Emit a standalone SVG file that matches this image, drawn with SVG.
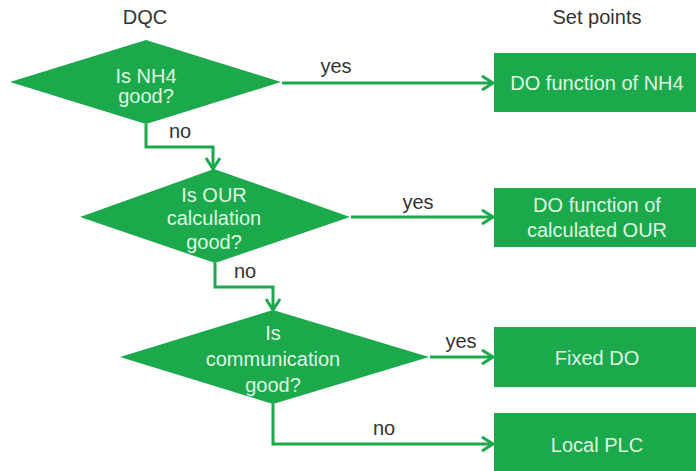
<svg xmlns="http://www.w3.org/2000/svg" width="696" height="471" viewBox="0 0 696 471">
<defs>
<marker id="arr" markerUnits="userSpaceOnUse" markerWidth="16" markerHeight="18" viewBox="0 0 16 18" refX="14" refY="9" orient="auto">
<path d="M3,2 L14,9 L3,16" fill="none" stroke="#1ba94c" stroke-width="3"/>
</marker>
</defs>
<style>
.shape{fill:#1ba94c}
.in{font-family:"Liberation Sans",Arial,sans-serif;font-size:20px;fill:#dff7e3;text-anchor:middle}
.lbl{font-family:"Liberation Sans",Arial,sans-serif;font-size:20px;fill:#333;text-anchor:middle}
.c{fill:none;stroke:#1ba94c;stroke-width:3}
</style>
<rect width="696" height="471" fill="#fff"/>
<text class="lbl" x="145" y="24">DQC</text>
<text class="lbl" x="597" y="24">Set points</text>
<g id="d1">
<polygon class="shape" points="10,82 146,40 281,82 146,124"/>
<text class="in" x="146" y="83">Is NH4</text>
<text class="in" x="146" y="103">good?</text>
</g>
<g id="d2">
<polygon class="shape" points="80,217 214,169 350,217 215,263"/>
<text class="in" x="214" y="202">Is OUR</text>
<text class="in" x="214" y="225">calculation</text>
<text class="in" x="214" y="249">good?</text>
</g>
<g id="d3">
<polygon class="shape" points="120,357 273,310 429,357 273,404"/>
<text class="in" x="273" y="340">Is</text>
<text class="in" x="273" y="366">communication</text>
<text class="in" x="273" y="392">good?</text>
</g>
<g id="b1">
<rect class="shape" x="494" y="53" width="202" height="59"/>
<text class="in" x="597" y="90">DO function of NH4</text>
</g>
<g id="b2">
<rect class="shape" x="494" y="188" width="202" height="59"/>
<text class="in" x="597" y="212">DO function of</text>
<text class="in" x="597" y="237">calculated OUR</text>
</g>
<g id="b3">
<rect class="shape" x="494" y="327" width="202" height="60"/>
<text class="in" x="597" y="365">Fixed DO</text>
</g>
<g id="b4">
<rect class="shape" x="494" y="413" width="202" height="58"/>
<text class="in" x="597" y="452">Local PLC</text>
</g>
<g id="connectors">
<path class="c" d="M282,83 H493" marker-end="url(#arr)"/>
<path class="c" d="M146,124 V147 H213 V169" marker-end="url(#arr)"/>
<path class="c" d="M351,217 H493" marker-end="url(#arr)"/>
<path class="c" d="M215,263 V287 H273 V310" marker-end="url(#arr)"/>
<path class="c" d="M430,357 H493" marker-end="url(#arr)"/>
<path class="c" d="M273,404 V444 H493" marker-end="url(#arr)"/>
<text class="lbl" x="336" y="73">yes</text>
<text class="lbl" x="180" y="138">no</text>
<text class="lbl" x="418" y="209">yes</text>
<text class="lbl" x="245" y="278">no</text>
<text class="lbl" x="461" y="348">yes</text>
<text class="lbl" x="384" y="435">no</text>
</g>
</svg>
